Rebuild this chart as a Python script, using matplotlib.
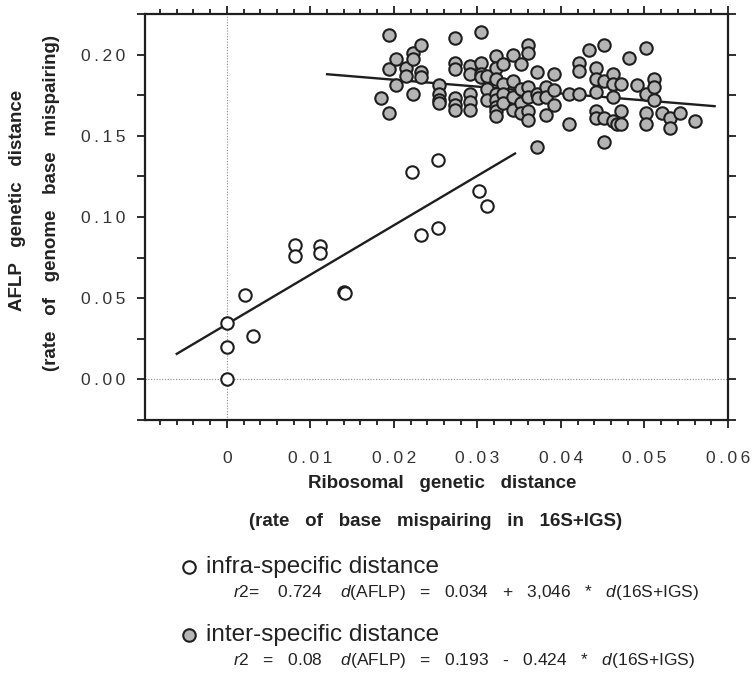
import numpy as np
import matplotlib
matplotlib.use("Agg")
import matplotlib.pyplot as plt
from matplotlib.lines import Line2D
from matplotlib.ticker import MultipleLocator, FixedLocator, FixedFormatter

plt.rcParams['font.family'] = ['Liberation Sans', 'DejaVu Sans']
plt.rcParams['mathtext.fontset'] = 'custom'
plt.rcParams['mathtext.rm'] = 'Liberation Sans'
plt.rcParams['mathtext.it'] = 'Liberation Sans:italic'

W, H = 756, 674

# infra-specific distances (open circles)
x_infra = [0.0, 0.0, 0.0, 0.0022, 0.0031, 0.0081, 0.0081, 0.0112, 0.0112, 0.0140, 0.0141,
           0.0222, 0.0253, 0.0232, 0.0253, 0.0302, 0.0311]
y_infra = [0.000, 0.020, 0.035, 0.052, 0.027, 0.083, 0.076, 0.082, 0.078, 0.054, 0.053,
           0.128, 0.135, 0.089, 0.093, 0.116, 0.107]

# inter-specific distances (grey circles)
x_inter = [0.0184, 0.0194, 0.0194, 0.0194, 0.0202, 0.0202, 0.0214, 0.0214, 0.0223, 0.0223,
           0.0223, 0.0233, 0.0233, 0.0233, 0.0254, 0.0254, 0.0254, 0.0254, 0.0273, 0.0273,
           0.0273, 0.0273, 0.0273, 0.0273, 0.0291, 0.0291, 0.0291, 0.0291, 0.0291, 0.0304,
           0.0304, 0.0304, 0.0304, 0.0312, 0.0312, 0.0312, 0.0322, 0.0322, 0.0322, 0.0322,
           0.0322, 0.0322, 0.0322, 0.0322, 0.0331, 0.0331, 0.0331, 0.0331, 0.0343, 0.0343,
           0.0343, 0.0343, 0.0352, 0.0352, 0.0352, 0.0352, 0.0361, 0.0361, 0.0361, 0.0361,
           0.0361, 0.0361, 0.0371, 0.0371, 0.0371, 0.0373, 0.0382, 0.0382, 0.0382, 0.0392,
           0.0392, 0.0392, 0.0410, 0.0410, 0.0422, 0.0422, 0.0422, 0.0433, 0.0442, 0.0442,
           0.0442, 0.0442, 0.0442, 0.0451, 0.0451, 0.0451, 0.0451, 0.0462, 0.0462, 0.0462,
           0.0462, 0.0467, 0.0472, 0.0472, 0.0472, 0.0481, 0.0491, 0.0502, 0.0502, 0.0502,
           0.0502, 0.0512, 0.0512, 0.0512, 0.0521, 0.0531, 0.0531, 0.0542, 0.0561]
y_inter = [0.173, 0.212, 0.191, 0.164, 0.197, 0.181, 0.192, 0.187, 0.201, 0.197,
           0.176, 0.206, 0.189, 0.186, 0.181, 0.176, 0.172, 0.170, 0.210, 0.195,
           0.191, 0.173, 0.169, 0.166, 0.193, 0.188, 0.176, 0.171, 0.166, 0.214,
           0.195, 0.188, 0.186, 0.187, 0.179, 0.172, 0.199, 0.192, 0.185, 0.176,
           0.172, 0.168, 0.165, 0.162, 0.194, 0.182, 0.176, 0.170, 0.200, 0.184,
           0.174, 0.166, 0.194, 0.179, 0.170, 0.164, 0.206, 0.201, 0.180, 0.174,
           0.165, 0.160, 0.189, 0.176, 0.143, 0.173, 0.180, 0.174, 0.163, 0.188,
           0.178, 0.169, 0.176, 0.157, 0.195, 0.190, 0.176, 0.203, 0.192, 0.185,
           0.177, 0.165, 0.161, 0.206, 0.184, 0.161, 0.146, 0.188, 0.182, 0.174,
           0.159, 0.157, 0.182, 0.165, 0.157, 0.198, 0.181, 0.204, 0.176, 0.164,
           0.157, 0.185, 0.180, 0.172, 0.164, 0.161, 0.155, 0.164, 0.159]

# regressions given on the figure
fit_infra = (0.034, 3.046)
fit_inter = (0.193, -0.424)
range_infra = [-0.006, 0.0345]
range_inter = [0.012, 0.0584]

xticks = [0, 0.01, 0.02, 0.03, 0.04, 0.05, 0.06]
xtick_labels = ['0', '0.01', '0.02', '0.03', '0.04', '0.05', '0.06']
yticks = [0.00, 0.05, 0.10, 0.15, 0.20]
ytick_labels = ['0.00', '0.05', '0.10', '0.15', '0.20']

INK = '#1e1e1e'
GREY = '#b5b5b5'
TXT = '#222222'


def spaced(s):
    # the scan has loosely tracked digits
    return '\u2009'.join(s)


fig = plt.figure(figsize=(W / 100, H / 100), dpi=100)
ax = fig.add_axes([145 / W, 1 - 420 / H, (728 - 145) / W, (420 - 14) / H])

ax.axvline(0, color='#8a8a8a', lw=0.8, ls=(0, (1, 1.5)), zorder=1)
ax.axhline(0, color='#8a8a8a', lw=0.8, ls=(0, (1, 1.5)), zorder=1)

for (a, b), xr in [(fit_infra, range_infra), (fit_inter, range_inter)]:
    xs = np.array(xr)
    ax.plot(xs, a + b * xs, color=INK, lw=1.7, zorder=2)

ax.scatter(x_inter, y_inter, s=80, facecolor=GREY, edgecolor=INK, linewidth=1.5, zorder=3)
ax.scatter(x_infra, y_infra, s=80, facecolor='white', edgecolor=INK, linewidth=1.5, zorder=4)

ax.set_xlim(-0.0098, 0.06)
ax.set_ylim(-0.025, 0.225)
ax.xaxis.set_major_locator(FixedLocator(xticks))
ax.xaxis.set_major_formatter(FixedFormatter([spaced(t) for t in xtick_labels]))
ax.xaxis.set_minor_locator(MultipleLocator(0.002))
ax.yaxis.set_major_locator(FixedLocator(yticks))
ax.yaxis.set_major_formatter(FixedFormatter([spaced(t) for t in ytick_labels]))
ax.yaxis.set_minor_locator(MultipleLocator(0.025))

for s in ax.spines.values():
    s.set_linewidth(1.6)
    s.set_color(INK)
ax.tick_params(which='both', direction='out', top=True, right=True, color=INK, width=1.3)
ax.tick_params(axis='x', which='major', length=6, pad=16, labelsize=12.5, labelcolor='#333333')
ax.tick_params(axis='x', which='minor', length=3.5)
ax.tick_params(axis='y', which='both', length=6, pad=8, labelsize=12.5, labelcolor='#333333')

# axis titles
lab = dict(fontsize=13.5, fontweight='bold', color=TXT, ha='center', va='center')
fig.text(18 / W, 1 - 200 / H, 'AFLP   genetic   distance', rotation=90, **lab)
fig.text(52 / W, 1 - 203 / H, '(rate   of   genome   base   mispairing)', rotation=90, **lab)
fig.text(442 / W, 1 - 483 / H, 'Ribosomal   genetic   distance', **lab)
fig.text(436 / W, 1 - 521 / H, '(rate   of   base   mispairing   in   16S+IGS)', **lab)

# legend block
fig.add_artist(Line2D([189 / W], [1 - 567 / H], transform=fig.transFigure, marker='o', ms=9,
                      mfc='white', mec=INK, mew=1.5, ls='none'))
fig.add_artist(Line2D([189 / W], [1 - 635 / H], transform=fig.transFigure, marker='o', ms=9,
                      mfc=GREY, mec=INK, mew=1.5, ls='none'))
fig.text(206 / W, 1 - 567 / H, 'infra-specific distance', fontsize=17.5, color=TXT, va='center')
fig.text(206 / W, 1 - 635 / H, 'inter-specific distance', fontsize=17.5, color=TXT, va='center')

eq_infra = r'$\mathit{r}$2=    0.724    $\mathit{d}$(AFLP)   =   0.034   +   3,046   *   $\mathit{d}$(16S+IGS)'
eq_inter = r'$\mathit{r}$2   =   0.08    $\mathit{d}$(AFLP)   =   0.193   -   0.424   *   $\mathit{d}$(16S+IGS)'
fig.text(233 / W, 1 - 592 / H, eq_infra, fontsize=12.5, color=TXT, va='center')
fig.text(233 / W, 1 - 660 / H, eq_inter, fontsize=12.5, color=TXT, va='center')

fig.savefig('out.png', dpi=100)
